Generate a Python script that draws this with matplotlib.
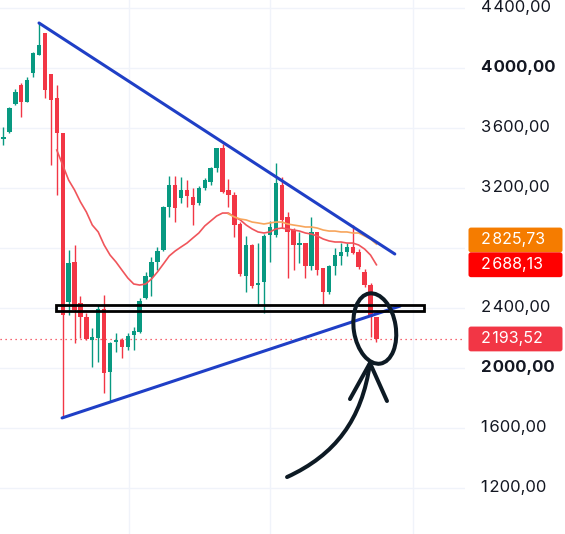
import matplotlib
matplotlib.use("Agg")
import matplotlib.pyplot as plt
from matplotlib.patches import Rectangle, Ellipse, FancyBboxPatch, PathPatch
from matplotlib.path import Path
from matplotlib.transforms import IdentityTransform
import numpy as np

plt.rcParams['font.family'] = ['Inter', 'DejaVu Sans']

# ---------------- data (weekly candles) ----------------
opens = [3387, 3527, 3573, 3760, 3887, 3773, 3967, 4087, 4233, 3960, 3800, 3567,
         2440, 2707, 2433, 2340, 2187, 2200, 2393, 1973, 2173, 2187, 2140, 2220,
         2240, 2467, 2607, 2707, 2787, 3073, 3220, 3133, 3187, 3140, 3100, 3200,
         3240, 3333, 3467, 3187, 3153, 2960, 2613, 2820, 2553, 2573, 2887, 2887,
         3220, 3007, 2920, 2820, 2833, 2680, 2907, 2667, 2507, 2680, 2747, 2773,
         2807, 2773, 2640, 2553, 2340]
highs = [3487, 3607, 3740, 3860, 3900, 3940, 4107, 4300, 4233, 3960, 3887, 3567,
         2787, 2820, 2480, 2367, 2267, 2420, 2487, 2173, 2233, 2200, 2233, 2273,
         2467, 2640, 2740, 2807, 3080, 3280, 3280, 3273, 3253, 3200, 3213, 3267,
         3340, 3467, 3493, 3260, 3173, 2973, 2880, 2827, 2833, 2893, 2980, 3367,
         3273, 3040, 2933, 2907, 2833, 3007, 2907, 2667, 2687, 2800, 2833, 2833,
         2953, 2793, 2660, 2567, 2340]
lows = [3380, 3487, 3567, 3753, 3673, 3773, 3940, 4087, 3800, 3353, 3153, 1667,
        2353, 2167, 2200, 2187, 2007, 2040, 1833, 1773, 2107, 2067, 2120, 2120,
        2233, 2460, 2480, 2653, 2780, 3007, 2973, 3100, 3073, 2953, 3087, 3187,
        3220, 3307, 3167, 3073, 2873, 2613, 2507, 2533, 2413, 2367, 2707, 2873,
        2933, 2600, 2653, 2700, 2600, 2653, 2620, 2427, 2493, 2620, 2687, 2747,
        2760, 2660, 2540, 2207, 2173]
closes = [3473, 3540, 3733, 3840, 3773, 3920, 4100, 4153, 3853, 3787, 3567, 2353,
          2700, 2387, 2340, 2193, 2207, 2393, 1967, 2167, 2187, 2140, 2213, 2247,
          2447, 2613, 2707, 2780, 3073, 3220, 3067, 3187, 3147, 3087, 3200, 3253,
          3333, 3467, 3173, 3153, 2953, 2627, 2820, 2547, 2567, 2880, 2940, 3233,
          2987, 2907, 2820, 2833, 2680, 2907, 2653, 2507, 2680, 2753, 2773, 2807,
          2767, 2673, 2553, 2340, 2193.52]
first_index = -1

# moving averages
ma_fast_start = 9
ma_fast = [3453, 3353, 3253, 3187, 3107, 3040, 2953, 2907, 2820, 2753, 2707, 2653,
           2600, 2560, 2553, 2560, 2593, 2640, 2693, 2747, 2780, 2807, 2833, 2867,
           2900, 2947, 2980, 3013, 3033, 3033, 3007, 2987, 2953, 2927, 2907, 2900,
           2907, 2927, 2933, 2927, 2920, 2913, 2900, 2893, 2880, 2860, 2847, 2840,
           2840, 2833, 2833, 2820, 2793, 2753, 2688.13]
ma_slow_start = 38
ma_slow = [3027, 3007, 2993, 2987, 2973, 2967, 2960, 2967, 2973, 2973, 2960, 2953,
           2947, 2940, 2940, 2933, 2920, 2913, 2913, 2907, 2907, 2900, 2900, 2880,
           2860, 2825.73]

last_price = 2193.52
ma_fast_last = 2688.13
ma_slow_last = 2825.73

y_ticks = [1200, 1600, 2000, 2400, 2800, 3200, 3600, 4000, 4400]
shown_ticks = [1200, 1600, 2000, 2400, 3200, 3600, 4000, 4400]
bold_ticks = [2000, 4000]

# drawings (candle index, price)
top_line = [(6.0, 4300), (66.1, 2760)]
bottom_line = [(9.9, 1667), (67.0, 2413)]
zone = (8.92, 70.98, 2381, 2422)

UP = '#089981'
DOWN = '#f23645'

W, H = 565, 534
fig = plt.figure(figsize=(W / 100, H / 100), dpi=100)
ax = fig.add_axes([0, 0, 465 / W, 1])
ax.set_xlim(-0.59, 77.96)
ax.set_ylim(893.3, 4453.3)
for s in ax.spines.values():
    s.set_visible(False)

# grid
ax.set_yticks(y_ticks)
ax.set_xticks([21.2, 45.1, 69.2])
ax.grid(True, color='#f0f3fa', lw=1.0, zorder=0)
ax.tick_params(axis='both', length=0, labelbottom=False, labelleft=False,
               labelright=False)


def fmt(v):
    whole = int(v)
    frac = int(round((v - whole) * 100))
    return f"{whole // 1000}\u200a{whole % 1000:03d},{frac:02d}"


LABEL_X = 481 / W
FS = 12
for v in shown_ticks:
    yd = ax.transData.transform((0, v))[1]
    fig.text(LABEL_X, yd / H, fmt(v), color='#131722', fontsize=FS,
             ha='left', va='center',
             fontweight='bold' if v in bold_ticks else 'normal')

# candles
n = len(opens)
xs = np.arange(first_index, first_index + n)
o = np.array(opens, float)
h = np.array(highs, float)
l = np.array(lows, float)
c = np.array(closes, float)
cols = [UP if cc >= oo else DOWN for oo, cc in zip(o, c)]
ax.vlines(xs, l, h, colors=cols, lw=1.0, zorder=2)
body_lo = np.minimum(o, c)
body_h = np.maximum(np.abs(c - o), 8)
ax.bar(xs, body_h, bottom=body_lo, width=0.74, color=cols, zorder=3, linewidth=0)

# moving averages
ax.plot(np.arange(ma_fast_start, ma_fast_start + len(ma_fast)), ma_fast,
        color='#f0555b', lw=1.2, zorder=4)
ax.plot(np.arange(ma_slow_start, ma_slow_start + len(ma_slow)), ma_slow,
        color='#f7a55c', lw=1.2, zorder=4)

# last price dotted line
ax.axhline(last_price, color=DOWN, lw=0.9, ls=(0, (1, 3)), zorder=1)

# trendlines
for line in (top_line, bottom_line):
    ax.plot([p[0] for p in line], [p[1] for p in line], color='#1f3fc6',
            lw=2.2, solid_capstyle='round', zorder=6)

# zone rectangle
ax.add_patch(Rectangle((zone[0], zone[2]), zone[1] - zone[0], zone[3] - zone[2],
                       fill=False, ec='#000000', lw=2.0, zorder=7))

# hand-drawn circle and arrow
INK = '#0d1a24'
cx, cy = ax.transData.transform((62.72, 2263))
ax.add_patch(Ellipse((cx, cy), 71, 42, angle=99, fill=False, ec=INK, lw=2.9,
                     transform=IdentityTransform(), clip_on=False, zorder=8))
arrow_pts = [(47.9, 1273), (56.0, 1420), (60.56, 1653), (61.91, 2033)]
ax.add_patch(PathPatch(Path(arrow_pts, [Path.MOVETO, Path.CURVE4, Path.CURVE4, Path.CURVE4]),
                       fill=False, ec=INK, lw=2.9, capstyle='round', zorder=8))
tip = arrow_pts[-1]
for end in [(58.53, 1793), (64.78, 1780)]:
    ax.plot([end[0], tip[0]], [end[1], tip[1]], color=INK, lw=2.9,
            solid_capstyle='round', zorder=8)

# price tags on the scale
tag_h = 24.8
red_y = ax.transData.transform((0, ma_fast_last))[1]
tags = [
    (ma_slow_last, red_y + tag_h, '#f57c00'),
    (ma_fast_last, red_y, '#ff0000'),
    (last_price, ax.transData.transform((0, last_price))[1], DOWN),
]
for val, yd, colr in tags:
    fig.add_artist(FancyBboxPatch((468.5, yd - tag_h / 2), 94, tag_h,
                                  boxstyle='round,pad=0,rounding_size=2.5',
                                  fc=colr, ec='none', transform=IdentityTransform()))
    fig.text(LABEL_X, yd / H, fmt(val), color='white', fontsize=FS - 0.5,
             ha='left', va='center')

fig.savefig('out.png', dpi=100)
